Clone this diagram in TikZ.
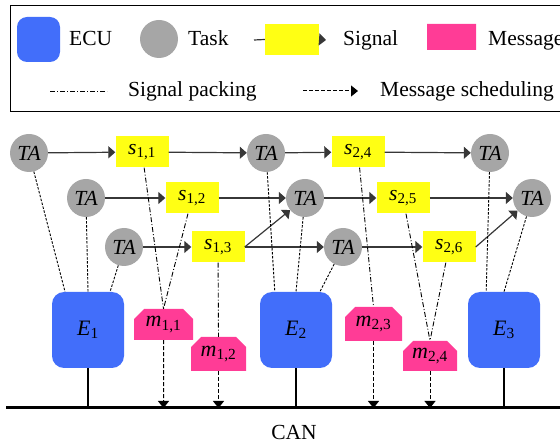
\documentclass[tikz,border=0pt]{standalone}
\usepackage{fontspec}
\setmainfont{Liberation Serif}
\usetikzlibrary{arrows.meta,shapes.misc}
\definecolor{ecublue}{RGB}{66,110,250}
\definecolor{taskgray}{RGB}{166,166,166}
\definecolor{sigyellow}{RGB}{255,255,20}
\definecolor{msgpink}{RGB}{255,60,150}
\definecolor{linegray}{RGB}{55,55,55}
\tikzset{
    ecu/.style={fill=ecublue, rounded corners=12pt, minimum width=72pt, minimum height=76pt, inner sep=0pt, font=\fontsize{22}{22}\selectfont},
    task/.style={circle, fill=taskgray, minimum size=38pt, inner sep=0pt, font=\fontsize{21.5}{21.5}\selectfont\itshape},
    sig/.style={fill=sigyellow, minimum width=53pt, minimum height=31pt, inner sep=0pt, font=\fontsize{21.5}{21.5}\selectfont},
    msg/.style={chamfered rectangle, chamfered rectangle corners={north west,north east}, chamfered rectangle xsep=5pt, chamfered rectangle ysep=5pt, fill=msgpink, minimum width=56pt, minimum height=32pt, inner sep=0pt, font=\fontsize{22}{22}\selectfont},
    legtext/.style={anchor=base west, inner sep=0pt, font=\fontsize{21.5}{21.5}\selectfont},
    flow/.style={draw=linegray, line width=1.2pt, -{Triangle[length=7pt,width=12pt]}},
    plain/.style={draw=linegray, line width=1.2pt},
    alloc/.style={draw=black, line width=0.9pt, dash pattern=on 2.5pt off 1.5pt},
    pack/.style={draw=black, line width=0.9pt, dash pattern=on 5pt off 2pt on 1pt off 2pt},
    sched/.style={draw=black, line width=1pt, dash pattern=on 4pt off 2pt, -{Triangle[length=7pt,width=11pt]}},
    tap/.style={draw=black, line width=2pt}
}
\begin{document}
\begin{tikzpicture}[x=1pt, y=-1pt]
    \useasboundingbox (0,0) rectangle (560,446);
    \draw[line width=0.9pt] (10,5) rectangle (600,111);
    \node[ecu, minimum width=43pt, minimum height=45pt, rounded corners=10pt] (lecu) at (38.5,39.5) {};
    \node[legtext] (lecutxt) at (69,46) {ECU};
    \node[task] (ltask) at (159,39) {};
    \node[legtext] (ltasktxt) at (188,46) {Task};
    \coordinate (lsigin) at (254,40);
    \node[sig, minimum width=54pt, minimum height=31pt] (lsig) at (292,39.5) {};
    \coordinate (lsigout) at (326,40);
    \draw[plain] (lsigin) -- (lsig.west);
    \draw[flow] (lsig.east) -- (lsigout);
    \node[legtext] (lsigtxt) at (343,45.5) {Signal};
    \node[msg, minimum width=49pt, minimum height=26pt] (lmsg) at (451.5,37) {};
    \node[legtext] (lmsgtxt) at (488,45.5) {Message};
    \coordinate (lpacka) at (50,91);
    \coordinate (lpackb) at (107,91);
    \draw[pack] (lpacka) -- (lpackb);
    \node[legtext] (lpacktxt) at (128,97) {Signal packing};
    \coordinate (lscheda) at (303,91);
    \coordinate (lschedb) at (358,91);
    \draw[sched] (lscheda) -- (lschedb);
    \node[legtext] (lschedtxt) at (380,97) {Message scheduling};

    \node[task] (t11) at (29,153) {TA};
    \node[sig] (s11) at (142,152) {\textit{s}\textsubscript{1,1}};
    \node[task] (t12) at (266,153) {TA};
    \node[sig] (s24) at (358,152) {\textit{s}\textsubscript{2,4}};
    \node[task] (t13) at (490,153) {TA};
    \node[task] (t21) at (86,198) {TA};
    \node[sig] (s12) at (192,198) {\textit{s}\textsubscript{1,2}};
    \node[task] (t22) at (305,198) {TA};
    \node[sig] (s25) at (403,198) {\textit{s}\textsubscript{2,5}};
    \node[task] (t23) at (532,198) {TA};
    \node[task] (t31) at (124,247) {TA};
    \node[sig] (s13) at (218,247) {\textit{s}\textsubscript{1,3}};
    \node[task] (t32) at (343,247) {TA};
    \node[sig] (s26) at (449,247) {\textit{s}\textsubscript{2,6}};

    \node[ecu] (e1) at (88,330) {\textit{E}\textsubscript{1}};
    \node[ecu] (e2) at (296,330) {\textit{E}\textsubscript{2}};
    \node[ecu] (e3) at (504,330) {\textit{E}\textsubscript{3}};
    \node[msg, minimum width=59pt, minimum height=31pt] (m11) at (163.5,324.5) {\textit{m}\textsubscript{1,1}};
    \node[msg, minimum width=55pt, minimum height=34pt] (m12) at (218.5,354) {\textit{m}\textsubscript{1,2}};
    \node[msg, minimum width=57pt, minimum height=34pt] (m23) at (373.5,324) {\textit{m}\textsubscript{2,3}};
    \node[msg, minimum width=54pt, minimum height=30pt] (m24) at (430,356) {\textit{m}\textsubscript{2,4}};

    \coordinate (busl) at (6,408);
    \coordinate (busr) at (560,408);
    \draw[line width=3pt] (busl) -- (busr);
    \node[anchor=base, inner sep=0pt, font=\fontsize{21.5}{21.5}\selectfont] (can) at (294,439) {CAN};

    \draw[flow] (t11) -- (s11);
    \draw[flow] (s11) -- (t12);
    \draw[flow] (t12) -- (s24);
    \draw[flow] (s24) -- (t13);
    \draw[flow] (t21) -- (s12);
    \draw[flow] (s12) -- (t22);
    \draw[flow] (t22) -- (s25);
    \draw[flow] (s25) -- (t23);
    \draw[flow] (t31) -- (s13);
    \draw[flow] (s13) -- (t32);
    \draw[flow] (s13.east) -- (t22);
    \draw[flow] (t32) -- (s26);
    \draw[flow] (s26.east) -- (t23);

    \draw[alloc] (t11) -- (e1.121);
    \draw[alloc] (t21) -- (e1.north);
    \draw[alloc] (t31) -- (e1.60);
    \draw[alloc] (t12) -- (e2.119);
    \draw[alloc] (t22) -- (e2.north);
    \draw[alloc] (t32) -- (e2.58);
    \draw[alloc] (t13) -- (e3.115);
    \draw[alloc] (t23) -- (e3.north);

    \draw[pack] (s11) -- (m11.north);
    \draw[pack] (s12) -- (m11.north);
    \draw[pack] (s13) -- (m12.north);
    \draw[pack] (s24) -- (m23.north);
    \draw[pack] (s25) -- (m24.north);
    \draw[pack] (s26) -- (m24.north);

    \draw[sched] (m11) -- (m11 |- busl);
    \draw[sched] (m12) -- (m12 |- busl);
    \draw[sched] (m23) -- (m23 |- busl);
    \draw[sched] (m24) -- (m24 |- busl);
    \draw[tap] (e1) -- (e1 |- busl);
    \draw[tap] (e2) -- (e2 |- busl);
    \draw[tap] (e3) -- (e3 |- busl);
\end{tikzpicture}
\end{document}
